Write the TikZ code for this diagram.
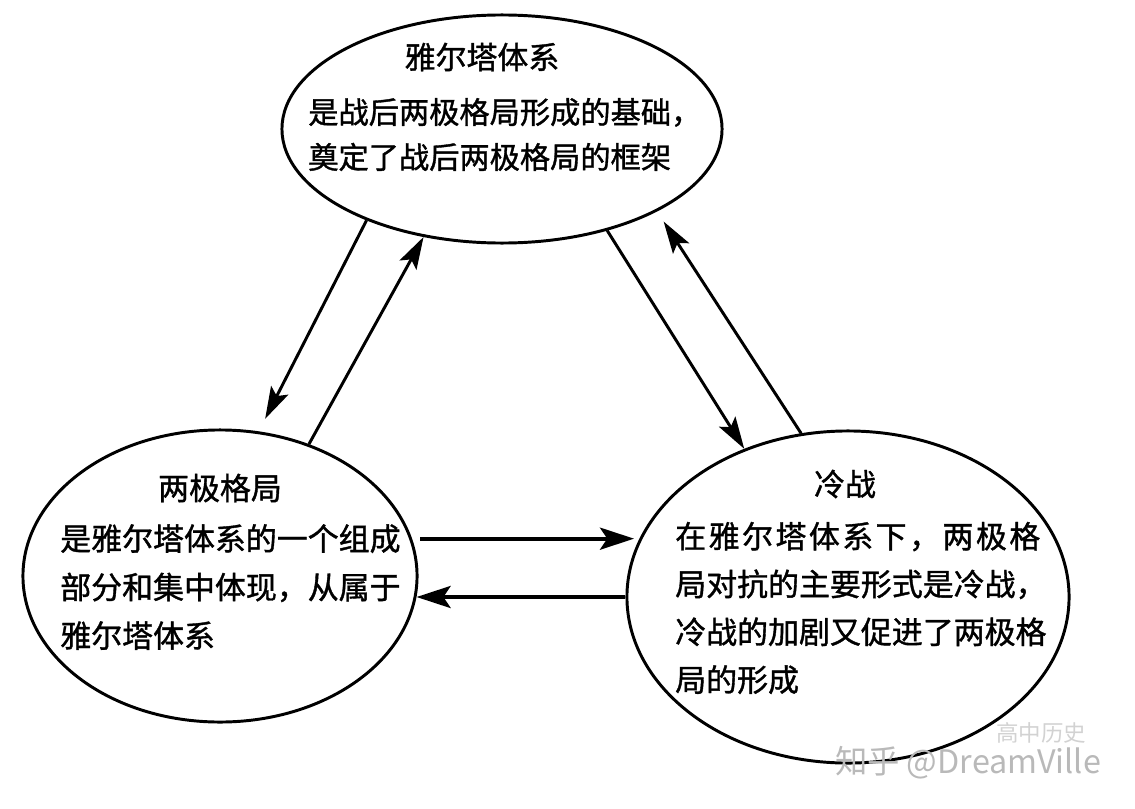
\documentclass[tikz,border=0pt]{standalone}
\usepackage{fontspec}
\setmainfont{Noto Sans CJK SC}[FakeBold=1.2]
\newfontfamily\markfont{Noto Sans CJK SC}
\usepackage{xcolor}
\usepackage{tikz}
\usetikzlibrary{arrows.meta, shapes.geometric, positioning}

\tikzset{
    ellipsebox/.style={draw, ellipse, line width=2.1pt, inner sep=0pt},
    titletext/.style={font=\fontsize{22}{33}\selectfont, inner sep=0pt},
    bodytext/.style={font=\fontsize{22}{34}\selectfont, align=left, inner sep=0pt, anchor=west},
    arrowline/.style={line width=2.1pt, -{Stealth[length=8mm, width=4.8mm, inset=1.6mm]}},
    flatarrow/.style={line width=2.8pt, -{Stealth[length=8.5mm, width=5.5mm, inset=1.8mm]}},
    watermarktext/.style={text=gray!55, inner sep=0pt},
}

\begin{document}
\begin{tikzpicture}[x=0.025cm, y=-0.025cm]
    \useasboundingbox (0,0) rectangle (1135,808);

    % Ba khối elip: 雅尔塔体系, 两极格局, 冷战
    \node[ellipsebox, minimum width=11cm, minimum height=5.7cm] (yalta) at (502,129) {};
    \node[ellipsebox, minimum width=9.85cm, minimum height=7.3cm] (bipolar) at (220,576) {};
    \node[ellipsebox, minimum width=11.05cm, minimum height=8.3cm] (coldwar) at (848,597) {};

    % Chữ trong từng elip
    \node[titletext] (yaltatitle) at (482,57) {雅尔塔体系};
    \node[bodytext, font=\fontsize{21.5}{32}\selectfont] (yaltabody) at (308,134.5)
        {是战后两极格局形成的基础，\\奠定了战后两极格局的框架};

    \node[titletext] (bipolartitle) at (220,488) {两极格局};
    \node[bodytext, font=\fontsize{22}{34.5}\selectfont] (bipolarbody) at (60,587)
        {是雅尔塔体系的一个组成\\部分和集中体现，从属于\\雅尔塔体系};

    \node[titletext] (coldwartitle) at (845,484) {冷战};
    \node[bodytext] (coldwarbody) at (675,608)
        {{\addfontfeature{LetterSpace=8}在雅尔塔体系下，两极格}\\局对抗的主要形式是冷战，\\冷战的加剧又促进了两极格\\局的形成};

    % Các mũi tên hai chiều giữa các khối
    \draw[arrowline, shorten >=3.5mm] (yalta.214) -- (bipolar.75);
    \draw[arrowline] (bipolar.56) -- (yalta.234);
    \draw[arrowline] (yalta.316) -- (coldwar.125);
    \draw[arrowline, shorten >=3mm] (coldwar.106) -- (yalta.332);
    \draw[flatarrow, shorten <=2mm, shorten >=1.5mm]
        (bipolar.11) -- (bipolar.11 -| coldwar.164);
    \draw[flatarrow] (coldwar.180) -- (coldwar.180 -| bipolar.354);

    % Dấu nước
    \node[watermarktext, text=gray!35, font=\markfont\fontsize{16}{18}\selectfont] (wmschool) at (1041,733) {高中历史};
    \node[watermarktext, font=\markfont\fontsize{23}{26}\selectfont] (wmname) at (968,763) {知乎 @DreamVille};
\end{tikzpicture}
\end{document}
